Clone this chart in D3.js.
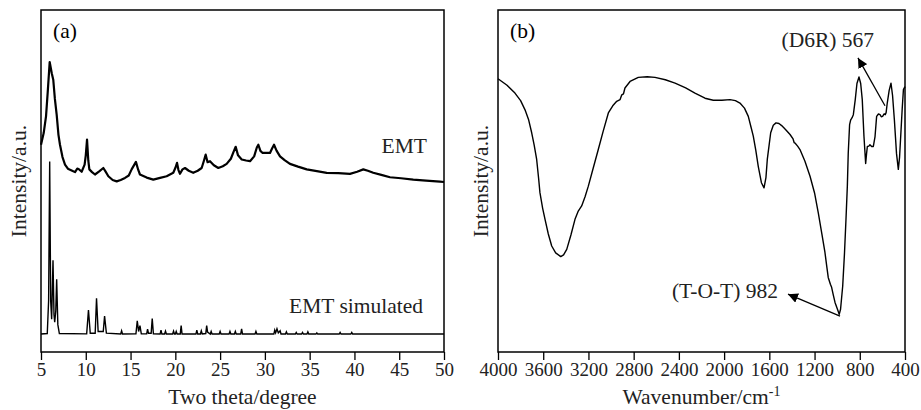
<!DOCTYPE html>
<html>
<head>
<meta charset="utf-8">
<script src="https://cdn.jsdelivr.net/npm/d3@7/dist/d3.min.js"></script>
<style>
  body { margin: 0; background: #fff; }
  svg { display: block; font-family: 'Liberation Serif', 'Times New Roman', serif; }
</style>
</head>
<body>
<div id="chart"></div>
<script>
// XRD: measured EMT pattern, [two theta, intensity]
const emtPattern = [
  [5.0,60.6],[5.3,64],[5.56,68.9],[5.75,76],[5.97,84.8],[6.2,81.5],[6.37,79.6],[6.55,74],
  [6.75,69.4],[6.95,63.5],[7.12,60.6],[7.4,57],[7.68,54.8],[8.0,53.6],[8.42,53.1],[8.8,52.6],
  [9.05,53.6],[9.2,53.5],[9.54,52.7],[9.87,54.8],[10.0,57.5],[10.14,62.1],[10.28,56],[10.4,53.4],
  [10.7,52.6],[11.03,51.9],[11.5,52.8],[11.96,53.8],[12.2,52.8],[12.52,51.4],[13.0,50.3],[13.45,49.9],
  [13.9,50.3],[14.38,50.9],[14.8,51.6],[15.12,53.4],[15.6,55.6],[15.85,53.3],[16.05,51.9],[16.8,51.0],
  [17.54,50.4],[18.3,50.9],[19.03,51.4],[19.77,52.4],[20.0,53.8],[20.19,55.3],[20.35,53.2],[20.52,52.1],
  [20.8,53.4],[21.08,53.8],[21.5,53.0],[22.0,52.4],[22.5,53.0],[22.94,53.8],[23.2,56],[23.39,57.7],
  [23.6,55.5],[23.87,55.8],[24.3,54.6],[24.8,53.8],[25.3,54.3],[25.73,55.0],[26.2,56.5],[26.5,58.5],
  [26.74,60],[27.0,57.5],[27.41,56.3],[27.9,56.0],[28.34,55.8],[28.8,57.2],[29.1,59.8],[29.27,60.6],
  [29.5,58.8],[29.75,58.2],[30.2,58.2],[30.57,58.2],[30.8,59.5],[31.02,60.6],[31.3,58.9],[31.69,57.2],
  [32.2,56.1],[32.8,55.0],[33.7,54.2],[34.67,53.4],[35.8,52.9],[36.9,52.4],[38.2,52.3],[39.5,52.1],
  [40.3,52.7],[40.99,53.4],[41.5,53.0],[42.1,52.4],[43.0,51.8],[43.97,51.1],[45.2,50.8],[46.57,50.4],
  [48.0,50.1],[49.55,49.8],[50,49.7]
];

// XRD: simulated EMT pattern, [two theta, intensity]
const simPattern = [
  [5,5.25],[5.7,5.4],[5.85,15],[5.97,55.7],[6.08,15],[6.19,9.6],[6.34,26.8],[6.45,11],[6.53,8.7],
  [6.65,12],[6.75,21.3],[6.88,8],[7.05,5.4],[10.1,5.3],[10.3,12.3],[10.5,5.5],[11.05,5.5],[11.2,15.7],
  [11.38,6],[11.95,6],[12.1,10.5],[12.3,5.5],[13.9,5.25],[14.0,6.2],[14.1,5.25],[15.6,5.3],[15.75,9.1],
  [15.9,6],[16.05,7.7],[16.2,5.3],[16.8,5.3],[16.9,6.7],[17.0,5.5],[17.3,5.5],[17.42,9.8],[17.55,5.3],
  [18.3,5.25],[18.4,6.4],[18.5,5.25],[18.8,5.25],[18.9,6.1],[19.0,5.25],[19.7,5.25],[19.8,6.1],
  [19.9,5.25],[20.0,5.25],[20.1,6.0],[20.2,5.25],[20.55,5.25],[20.65,7.7],[20.75,5.25],[22.3,5.25],
  [22.4,6.4],[22.5,5.25],[22.8,5.25],[22.9,6.2],[23.0,5.25],[23.4,5.4],[23.5,7.7],[23.6,5.8],[23.9,5.25],
  [24.0,6.0],[24.1,5.25],[24.9,5.25],[25.0,6.0],[25.1,5.25],[26.0,5.25],[26.1,6],[26.2,5.25],[26.6,5.25],
  [26.7,6],[26.8,5.25],[27.3,5.25],[27.4,6.8],[27.5,5.25],[28.9,5.25],[29.0,6],[29.1,5.25],[31.0,5.25],
  [31.1,6.4],[31.2,5.6],[31.35,6.8],[31.5,5.6],[31.7,6.2],[31.8,5.25],[32.3,5.25],[32.4,5.9],[32.5,5.25],
  [33.4,5.25],[33.5,5.7],[33.6,5.25],[34.1,5.25],[34.2,5.7],[34.3,5.25],[34.7,5.25],[34.8,5.9],
  [34.9,5.25],[35.7,5.25],[35.8,5.6],[35.9,5.25],[38.3,5.25],[38.4,5.7],[38.5,5.25],[39.6,5.25],
  [39.7,5.7],[39.8,5.25],[50,5.25]
];

// FTIR spectrum, [wavenumber, intensity]
const irSpectrum = [
  [4000,79.9],[3920,78],[3850,75.7],[3800,73.5],[3761,70.8],[3730,68],[3702,64.1],[3680,60.5],
  [3658,56.3],[3640,50.5],[3629,46.6],[3605,42],[3584,38.8],[3555,34.5],[3525,31],[3490,29],
  [3445,27.9],[3420,28.4],[3392,30],[3355,34.2],[3319,38.8],[3290,41.2],[3260,42.7],[3230,45.4],
  [3201,48.5],[3160,53.5],[3113,59.2],[3070,64.5],[3024,69.9],[2985,72],[2950,73.3],[2920,73.8],
  [2905,75.2],[2890,75.5],[2877,77.2],[2832,79.1],[2759,80.3],[2680,80.5],[2611,80.3],[2520,79.6],
  [2434,78.6],[2340,77.2],[2258,75.7],[2169,74.2],[2096,73.6],[2020,73.6],[1948,73.8],[1900,73.5],
  [1860,72.8],[1820,71.3],[1786,68.9],[1760,65.5],[1742,63.1],[1720,59],[1698,54.3],[1670,49.5],
  [1647,48],[1630,51],[1618,56.3],[1600,61],[1588,64.1],[1565,66.3],[1541,67],[1515,66.8],
  [1491,66.2],[1455,65],[1417,63.6],[1390,62.3],[1380,61.2],[1373,61.1],[1350,60.2],[1329,59.2],
  [1285,55.8],[1240,51.4],[1200,46.5],[1167,40.7],[1135,34.5],[1108,29.1],[1090,24.5],[1079,21.8],
  [1060,19.8],[1049,18.9],[1035,16.8],[1019,14.5],[995,12.3],[982,11],[970,12.5],[951,19.3],
  [935,29],[922,38.8],[910,48.5],[902,58.2],[890,66.5],[880,67.9],[868,68.5],[857,69.4],[840,73.8],
  [825,78.5],[807,80.4],[792,78.5],[778,73.8],[770,68],[763,63.1],[748,55.1],[740,58],[733,60.1],
  [720,60.2],[710,60.6],[695,60.1],[680,60.1],[665,63],[651,68.9],[635,69.6],[621,69.4],[610,68.8],
  [598,68.9],[585,69.6],[575,69.4],[567,70],[557,72.8],[540,76.5],[524,78.6],[510,75],[494,67.9],
  [475,58],[459,53.4],[448,57],[438,63.1],[425,71],[414,76.7],[400,77.6]
];

const xrdTicks = [5, 10, 15, 20, 25, 30, 35, 40, 45, 50];
const irTicks = [4000, 3600, 3200, 2800, 2400, 2000, 1600, 1200, 800, 400];

const width = 921;
const height = 410;
const plotTop = 10, plotBottom = 352;

const svg = d3.select('#chart').append('svg')
  .attr('width', width)
  .attr('height', height);

svg.append('defs').append('marker')
  .attr('id', 'head')
  .attr('viewBox', '0 0 10 10')
  .attr('refX', 10).attr('refY', 5)
  .attr('markerWidth', 10).attr('markerHeight', 10)
  .attr('markerUnits', 'userSpaceOnUse')
  .attr('orient', 'auto')
  .append('path')
  .attr('d', 'M0,0L10,5L0,10Z')
  .attr('fill', '#000');

function panel(left, right, xDomain, ticks, letter, titleX) {
  const x = d3.scaleLinear().domain(xDomain).range([left, right]);
  const y = d3.scaleLinear().domain([0, 100]).range([plotBottom, plotTop]);
  const g = svg.append('g');

  const axis = g.append('g')
    .attr('transform', 'translate(0,' + plotBottom + ')')
    .call(d3.axisBottom(x).tickValues(ticks).tickFormat(d3.format('d'))
      .tickSize(8).tickSizeOuter(0).tickPadding(3));
  axis.select('.domain').remove();
  axis.attr('font-family', null);
  axis.selectAll('line').attr('stroke', '#000').attr('stroke-width', 1.3);
  axis.selectAll('text')
    .attr('fill', '#222')
    .style('font-size', '19px')
    .style('font-family', 'Liberation Serif');

  g.append('rect')
    .attr('x', left).attr('y', plotTop)
    .attr('width', right - left).attr('height', plotBottom - plotTop)
    .attr('fill', 'none')
    .attr('stroke', '#000')
    .attr('stroke-width', 1.5);

  g.append('text')
    .attr('x', left + 12).attr('y', 38)
    .style('font-size', '21.5px')
    .text(letter);

  g.append('text')
    .attr('transform', 'translate(' + titleX + ',' + ((plotTop + plotBottom) / 2) + ') rotate(-90)')
    .attr('text-anchor', 'middle')
    .style('font-size', '21.5px')
    .attr('fill', '#222')
    .text('Intensity/a.u.');

  return { g, x, y };
}

// (a) XRD
const a = panel(41, 444, [5, 50], xrdTicks, '(a)', 26);
const lineA = d3.line().x(d => a.x(d[0])).y(d => a.y(d[1]));

a.g.append('path')
  .datum(emtPattern)
  .attr('d', lineA)
  .attr('fill', 'none')
  .attr('stroke', '#000')
  .attr('stroke-width', 2.2)
  .attr('stroke-linejoin', 'round');

a.g.append('path')
  .datum(simPattern)
  .attr('d', lineA)
  .attr('fill', 'none')
  .attr('stroke', '#000')
  .attr('stroke-width', 1.4);

a.g.append('text')
  .attr('x', 427).attr('y', 153)
  .attr('text-anchor', 'end')
  .style('font-size', '21.5px')
  .attr('fill', '#222')
  .text('EMT');

a.g.append('text')
  .attr('x', 423).attr('y', 313)
  .attr('text-anchor', 'end')
  .style('font-size', '21.5px')
  .attr('fill', '#222')
  .text('EMT simulated');

a.g.append('text')
  .attr('x', (41 + 444) / 2).attr('y', 404)
  .attr('text-anchor', 'middle')
  .style('font-size', '21.5px')
  .attr('fill', '#222')
  .text('Two theta/degree');

// (b) FTIR
const b = panel(498, 905, [4000, 400], irTicks, '(b)', 488);
const lineB = d3.line().x(d => b.x(d[0])).y(d => b.y(d[1]));

b.g.append('path')
  .datum(irSpectrum)
  .attr('d', lineB)
  .attr('fill', 'none')
  .attr('stroke', '#000')
  .attr('stroke-width', 1.4)
  .attr('stroke-linejoin', 'round');

// annotations: arrow from peak to label
b.g.append('line')
  .attr('x1', b.x(577)).attr('y1', b.y(72))
  .attr('x2', b.x(816)).attr('y2', b.y(86))
  .attr('stroke', '#000').attr('stroke-width', 1.3)
  .attr('marker-end', 'url(#head)');

b.g.append('text')
  .attr('x', b.x(673)).attr('y', b.y(89.2))
  .attr('text-anchor', 'end')
  .style('font-size', '21.5px')
  .attr('fill', '#222')
  .text('(D6R) 567');

b.g.append('line')
  .attr('x1', b.x(975)).attr('y1', b.y(10.5))
  .attr('x2', b.x(1435)).attr('y2', b.y(16.9))
  .attr('stroke', '#000').attr('stroke-width', 1.3)
  .attr('marker-end', 'url(#head)');

b.g.append('text')
  .attr('x', b.x(1523)).attr('y', b.y(15.8))
  .attr('text-anchor', 'end')
  .style('font-size', '21.5px')
  .attr('fill', '#222')
  .text('(T-O-T) 982');

const xt = b.g.append('text')
  .attr('x', (498 + 905) / 2).attr('y', 404)
  .attr('text-anchor', 'middle')
  .style('font-size', '21.5px')
  .attr('fill', '#222');
xt.append('tspan').text('Wavenumber/cm');
xt.append('tspan').attr('dy', -8).style('font-size', '14px').text('-1');
</script>
</body>
</html>
